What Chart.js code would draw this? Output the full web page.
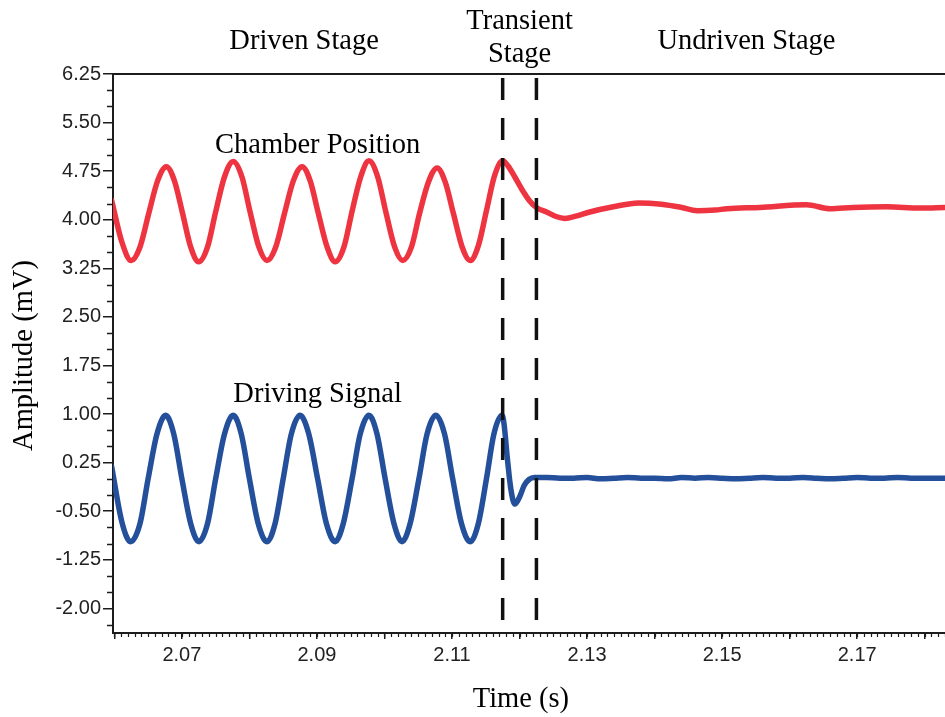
<!DOCTYPE html>
<html>
<head>
<meta charset="utf-8">
<script src="https://cdn.jsdelivr.net/npm/chart.js@4/dist/chart.umd.min.js"></script>
<style>
  html, body { margin: 0; padding: 0; background: #ffffff; }
  #wrap { width: 945px; height: 717px; position: relative; }
</style>
</head>
<body>
<div id="wrap"><canvas id="c" width="945" height="717"></canvas></div>
<script>
// Chamber position (mV) against time (s)
const chamberTime = [
  2.0596, 2.0611, 2.0625, 2.0638, 2.0651, 2.0664, 2.0677, 2.0689, 2.0701, 2.0713,
  2.0725, 2.0738, 2.0750, 2.0763, 2.0776, 2.0789, 2.0801, 2.0814, 2.0826, 2.0839,
  2.0852, 2.0865, 2.0878, 2.0890, 2.0902, 2.0915, 2.0927, 2.0940, 2.0952, 2.0965,
  2.0977, 2.0990, 2.1002, 2.1015, 2.1027, 2.1040, 2.1052, 2.1065, 2.1078, 2.1090,
  2.1102, 2.1115, 2.1127, 2.1139, 2.1151, 2.1163, 2.1175, 2.1183, 2.1193, 2.1204,
  2.1215, 2.1226, 2.1240, 2.1254, 2.1267, 2.1285, 2.1304, 2.1339, 2.1376, 2.1410,
  2.1440, 2.1463, 2.1490, 2.1507, 2.1556, 2.1625, 2.1660, 2.1694, 2.1744, 2.1793,
  2.1830
];
const chamberAmp = [
  4.30, 3.66, 3.37, 3.58, 4.10, 4.60, 4.82, 4.60, 4.10, 3.58,
  3.35, 3.58, 4.12, 4.66, 4.90, 4.66, 4.12, 3.58, 3.37, 3.58,
  4.10, 4.60, 4.82, 4.60, 4.10, 3.58, 3.35, 3.58, 4.13, 4.67,
  4.91, 4.66, 4.12, 3.58, 3.37, 3.58, 4.10, 4.58, 4.80, 4.58,
  4.10, 3.58, 3.37, 3.60, 4.14, 4.68, 4.91, 4.83, 4.66, 4.46,
  4.29, 4.18, 4.12, 4.05, 4.02, 4.06, 4.12, 4.20, 4.26, 4.24,
  4.19, 4.14, 4.15, 4.17, 4.19, 4.23, 4.17, 4.19, 4.20, 4.18,
  4.19
];

// Driving signal (mV) against time (s)
const drivingTime = [
  2.0596, 2.0611, 2.0624, 2.0638, 2.0650, 2.0663, 2.0676, 2.0688, 2.0700, 2.0713,
  2.0725, 2.0738, 2.0750, 2.0763, 2.0776, 2.0788, 2.0800, 2.0813, 2.0826, 2.0838,
  2.0850, 2.0862, 2.0875, 2.0888, 2.0901, 2.0914, 2.0927, 2.0939, 2.0952, 2.0964,
  2.0977, 2.0989, 2.1001, 2.1014, 2.1026, 2.1038, 2.1051, 2.1063, 2.1076, 2.1089,
  2.1101, 2.1114, 2.1127, 2.1139, 2.1151, 2.1162, 2.1174, 2.1177, 2.1182, 2.1187,
  2.1193, 2.1200, 2.1207, 2.1214, 2.1222, 2.1240, 2.1260, 2.1280, 2.1300, 2.1320,
  2.1340, 2.1360, 2.1380, 2.1400, 2.1420, 2.1440, 2.1460, 2.1480, 2.1500, 2.1520,
  2.1540, 2.1560, 2.1580, 2.1600, 2.1620, 2.1640, 2.1660, 2.1680, 2.1700, 2.1720,
  2.1740, 2.1760, 2.1780, 2.1800, 2.1830
];
const drivingAmp = [
  0.19, -0.66, -0.97, -0.69, 0.00, 0.69, 0.98, 0.69, 0.00, -0.69,
  -0.97, -0.69, 0.00, 0.69, 0.98, 0.69, 0.00, -0.69, -0.97, -0.69,
  0.00, 0.69, 0.98, 0.69, 0.00, -0.69, -0.97, -0.69, 0.00, 0.69,
  0.98, 0.69, 0.00, -0.69, -0.97, -0.69, 0.00, 0.69, 0.98, 0.69,
  0.00, -0.69, -0.97, -0.69, 0.00, 0.69, 0.98, 0.85, 0.31, -0.15,
  -0.39, -0.28, -0.10, -0.01, 0.02, 0.02, 0.01, 0.01, 0.02, 0.00,
  0.01, 0.02, 0.01, 0.01, 0.00, 0.02, 0.01, 0.02, 0.01, 0.00,
  0.01, 0.02, 0.01, 0.01, 0.02, 0.01, 0.00, 0.01, 0.02, 0.01,
  0.01, 0.02, 0.01, 0.01, 0.01
];

// Boundaries between driven / transient / undriven stages (s)
const stageBoundaries = [2.1175, 2.1225];

// Axis ticks
const xTickValues = [2.06, 2.07, 2.08, 2.09, 2.10, 2.11, 2.12, 2.13, 2.14, 2.15, 2.16, 2.17, 2.18];
const xTickLabels = ['2.07', '2.09', '2.11', '2.13', '2.15', '2.17'];
const yTickLabels = ['-2.00', '-1.25', '-0.50', '0.25', '1.00', '1.75', '2.50', '3.25', '4.00', '4.75', '5.50', '6.25'];

const X_MIN = 2.0598, X_MAX = 2.183;
const Y_MIN = -2.38, Y_MAX = 6.25;
const X_MINOR_STEP = 0.001, Y_MINOR_STEP = 0.25;

const RED = '#ee3440';
const BLUE = '#244f9b';
const INK = '#1c1c1c';
const SANS = '"Liberation Sans", Arial, sans-serif';
const SERIF = '"Liberation Serif", "Times New Roman", serif';

const near = (a, b) => Math.abs(a - b) < 1e-6;

const frame = {
  id: 'frame',
  afterDraw(chart) {
    const { ctx, chartArea: a, scales: { x, y } } = chart;
    ctx.save();
    ctx.strokeStyle = INK;
    // top border
    ctx.lineWidth = 2;
    ctx.beginPath();
    ctx.moveTo(a.left - 1, a.top);
    ctx.lineTo(a.right, a.top);
    ctx.stroke();
    // minor ticks on the time axis
    ctx.lineWidth = 1.2;
    ctx.beginPath();
    for (let k = Math.ceil(X_MIN / X_MINOR_STEP); k * X_MINOR_STEP <= X_MAX; k++) {
      const px = Math.round(x.getPixelForValue(k * X_MINOR_STEP)) + 0.5;
      ctx.moveTo(px, a.bottom);
      ctx.lineTo(px, a.bottom + 4);
    }
    ctx.stroke();
    // minor ticks on the amplitude axis
    const majors = yTickLabels.map(parseFloat);
    ctx.lineWidth = 1.5;
    ctx.beginPath();
    for (let k = Math.ceil(Y_MIN / Y_MINOR_STEP); k * Y_MINOR_STEP <= Y_MAX + 1e-9; k++) {
      const v = k * Y_MINOR_STEP;
      if (majors.some(m => near(m, v))) continue;
      const py = Math.round(y.getPixelForValue(v)) + 0.5;
      ctx.moveTo(a.left - 6, py);
      ctx.lineTo(a.left, py);
    }
    ctx.stroke();

    // text
    ctx.fillStyle = '#000';
    ctx.font = '28.5px ' + SERIF;
    ctx.textAlign = 'center';
    ctx.textBaseline = 'alphabetic';
    ctx.fillText('Chamber Position', x.getPixelForValue(2.0901), y.getPixelForValue(5.03));
    ctx.fillText('Driving Signal', x.getPixelForValue(2.0901), y.getPixelForValue(1.18));
    ctx.fillText('Driven Stage', x.getPixelForValue(2.0881), a.top - 25);
    ctx.fillText('Transient', x.getPixelForValue(2.1200), a.top - 45);
    ctx.fillText('Stage', x.getPixelForValue(2.1200), a.top - 12);
    ctx.fillText('Undriven Stage', x.getPixelForValue(2.1536), a.top - 25);
    ctx.fillText('Time (s)', x.getPixelForValue(2.1202), a.bottom + 74);
    ctx.save();
    ctx.translate(25, (a.top + a.bottom) / 2 + 2);
    ctx.rotate(-Math.PI / 2);
    ctx.textBaseline = 'middle';
    ctx.fillText('Amplitude (mV)', 0, 0);
    ctx.restore();
    ctx.restore();
  }
};

const series = (ts, vs) => ts.map((t, i) => ({ x: t, y: vs[i] }));

new Chart(document.getElementById('c'), {
  type: 'line',
  data: {
    datasets: [
      {
        label: 'Chamber Position',
        data: series(chamberTime, chamberAmp),
        borderColor: RED, borderWidth: 5.5, pointRadius: 0,
        cubicInterpolationMode: 'monotone', borderCapStyle: 'round', borderJoinStyle: 'round',
        order: 2
      },
      {
        label: 'Driving Signal',
        data: series(drivingTime, drivingAmp),
        borderColor: BLUE, borderWidth: 5.5, pointRadius: 0,
        cubicInterpolationMode: 'monotone', borderCapStyle: 'round', borderJoinStyle: 'round',
        order: 2
      },
      ...stageBoundaries.map(t => ({
        label: 'boundary',
        data: [{ x: t, y: Y_MAX }, { x: t, y: Y_MIN }],
        borderColor: '#111', borderWidth: 3.5, pointRadius: 0,
        borderDash: [22, 18], borderDashOffset: 36,
        order: 0
      }))
    ]
  },
  options: {
    responsive: false,
    animation: false,
    devicePixelRatio: 1,
    layout: { padding: { top: 74, right: 0, bottom: 0, left: 0 } },
    plugins: { legend: { display: false }, tooltip: { enabled: false } },
    scales: {
      x: {
        type: 'linear', position: 'bottom', min: X_MIN, max: X_MAX,
        afterBuildTicks: s => { s.ticks = xTickValues.map(v => ({ value: v })); },
        afterFit: s => { s.height = 84; },
        grid: { drawOnChartArea: false, drawTicks: true, tickLength: 6, color: INK, lineWidth: 1.5 },
        border: { display: true, color: INK, width: 2 },
        ticks: {
          autoSkip: false, maxRotation: 0, padding: 4, color: '#222',
          font: { family: SANS, size: 20 },
          callback: v => xTickLabels.find(l => near(parseFloat(l), v)) || ''
        }
      },
      y: {
        type: 'linear', position: 'left', min: Y_MIN, max: Y_MAX,
        afterBuildTicks: s => { s.ticks = yTickLabels.map(l => ({ value: parseFloat(l) })); },
        afterFit: s => { s.width = 113; },
        grid: { drawOnChartArea: false, drawTicks: true, tickLength: 10, color: INK, lineWidth: 1.5 },
        border: { display: true, color: INK, width: 2 },
        ticks: {
          autoSkip: false, padding: 2, color: '#222',
          font: { family: SANS, size: 20 },
          callback: v => yTickLabels.find(l => near(parseFloat(l), v)) || ''
        }
      }
    }
  },
  plugins: [frame]
});
</script>
</body>
</html>
